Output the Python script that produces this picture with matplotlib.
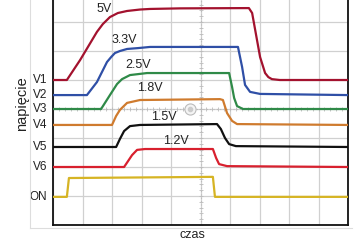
import numpy as np
import matplotlib
matplotlib.use('Agg')
import matplotlib.pyplot as plt
from matplotlib.lines import Line2D

plt.rcParams['font.family'] = ['Liberation Sans', 'DejaVu Sans']

v1_t = [0, 0.47, 0.92, 1.49, 1.69, 1.93, 2.20, 2.51, 2.95, 3.29, 4.31, 6.64, 6.75, 7.02, 7.19, 7.30, 7.42, 7.69, 10.0]
v1_u = [5.00, 5.00, 5.69, 6.66, 6.93, 7.17, 7.31, 7.38, 7.43, 7.45, 7.47, 7.48, 7.31, 5.79, 5.24, 5.10, 5.03, 5.00, 5.00]

v2_t = [0, 1.15, 1.49, 1.83, 1.97, 2.10, 2.27, 2.51, 2.88, 3.29, 6.27, 6.41, 6.51, 6.68, 7.02, 10.0]
v2_u = [4.48, 4.48, 4.93, 5.62, 5.79, 5.93, 6.00, 6.07, 6.10, 6.14, 6.14, 5.45, 4.83, 4.59, 4.52, 4.48]

v3_t = [0, 1.63, 1.93, 2.17, 2.34, 2.61, 3.19, 5.97, 6.07, 6.14, 6.24, 6.44, 10.0]
v3_u = [4.00, 4.00, 4.48, 4.86, 5.03, 5.17, 5.24, 5.24, 4.76, 4.38, 4.10, 4.00, 4.00]

v4_t = [0, 2.00, 2.14, 2.27, 2.51, 2.95, 5.66, 5.76, 5.90, 6.07, 6.24, 10.0]
v4_u = [3.45, 3.45, 3.76, 3.97, 4.21, 4.31, 4.34, 4.31, 3.86, 3.59, 3.48, 3.45]

v5_t = [0, 2.14, 2.27, 2.41, 2.61, 2.95, 5.56, 5.69, 5.83, 5.97, 6.20, 10.0]
v5_u = [2.69, 2.69, 2.97, 3.24, 3.41, 3.45, 3.48, 3.31, 3.00, 2.79, 2.72, 2.69]

v6_t = [0, 2.41, 2.68, 2.85, 3.12, 5.42, 5.53, 5.63, 5.90, 10.0]
v6_u = [2.00, 2.00, 2.41, 2.59, 2.62, 2.62, 2.31, 2.10, 2.03, 2.00]

on_t = [0, 0.47, 0.54, 5.42, 5.49, 10.0]
on_u = [0.97, 0.97, 1.62, 1.66, 0.97, 0.97]

names = ['V1', 'V2', 'V3', 'V4', 'V5', 'V6', 'ON']
levels = [5.00, 4.48, 4.00, 3.45, 2.69, 2.00, 0.97]
colors = ['#a3122e', '#2f4fa6', '#2f8a48', '#cf7b2e', '#111111', '#d8202e', '#d6b424']

napiecia = ['5V', '3.3V', '2.5V', '1.8V', '1.5V', '1.2V']
napiecia_xy = [(1.73, 7.45), (2.41, 6.38), (2.88, 5.52), (3.29, 4.72), (3.76, 3.72), (4.17, 2.90)]

fig = plt.figure(figsize=(3.63, 2.42), dpi=100)
ax = fig.add_axes([53/363, 17/242, 295/363, 232/242])

ax.set_xlim(0, 10)
ax.set_ylim(0, 8)
ax.set_xticks(np.arange(0, 11))
ax.set_yticks(np.arange(0, 9))
ax.grid(True, color='#d0d0d0', lw=0.9)
ax.tick_params(length=0, labelbottom=False, labelleft=False)

# linie srodkowe z podzialka
ax.axvline(5, color='#bbbbbb', lw=0.8, ls=(0, (1, 2)))
ax.axhline(4, color='#bbbbbb', lw=0.8, ls=(0, (1, 2)))
tt = np.arange(0, 10.01, 0.2)
ax.plot(tt, np.full_like(tt, 4), ls='none', marker='|', ms=3, mew=0.6, color='#bbbbbb')
tt = np.arange(0, 8.01, 0.2)
ax.plot(np.full_like(tt, 5), tt, ls='none', marker='_', ms=3, mew=0.6, color='#bbbbbb')
ax.plot([4.64], [4.0], marker='o', ms=8, mfc='#f4f4f4', mec='#bbbbbb', mew=0.8)
ax.plot([4.64], [4.0], marker='o', ms=3, mfc='#cccccc', mec='#cccccc')

serie = [(v1_t, v1_u), (v2_t, v2_u), (v3_t, v3_u), (v4_t, v4_u),
         (v5_t, v5_u), (v6_t, v6_u), (on_t, on_u)]
for (t, u), c in zip(serie, colors):
    ax.plot(t, u, color=c, lw=1.6, solid_joinstyle='round', zorder=3)

for txt, (x, y) in zip(napiecia, napiecia_xy):
    ax.text(x, y, txt, fontsize=9, ha='center', va='center', color='#222222')

for name, lev in zip(names, levels):
    ax.text(-0.2, lev, name, fontsize=8.5, ha='right', va='center', color='#222222')

for s in ['left', 'bottom', 'right', 'top']:
    ax.spines[s].set_color('#111111')
    ax.spines[s].set_linewidth(1.3)

fig.text(22/363, 1 - 104/242, 'napięcie', rotation=90, fontsize=10.5,
         ha='center', va='center', color='#222222')
fig.text(192/363, 1/242, 'czas', fontsize=9, ha='center', va='bottom', color='#222222')

# zewnetrzna ramka
fig.add_artist(Line2D([30/363, 30/363], [14/242, 1], color='#dddddd', lw=0.8))
fig.add_artist(Line2D([30/363, 352/363], [14/242, 14/242], color='#dddddd', lw=0.8))

fig.savefig('out.png', dpi=100)
